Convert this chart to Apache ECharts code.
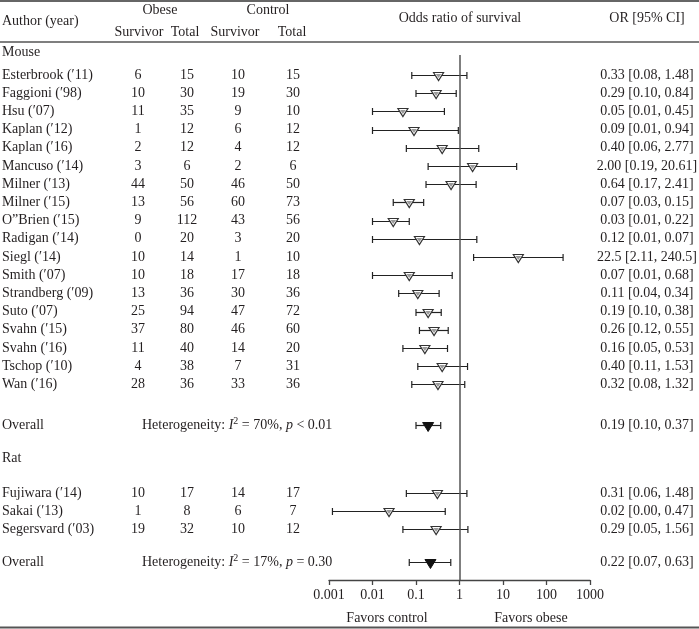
<!DOCTYPE html>
<html>
<head>
<meta charset="utf-8">
<script src="https://cdn.jsdelivr.net/npm/echarts@6/dist/echarts.min.js"></script>
<style>html,body{margin:0;padding:0;background:#fff}#c{width:699px;height:629px}</style>
</head>
<body>
<div id="c"></div>
<script>
// ---------- DATA ----------
const mouseStudies = ["Esterbrook (′11)", "Faggioni (′98)", "Hsu (′07)", "Kaplan (′12)", "Kaplan (′16)", "Mancuso (′14)", "Milner (′13)", "Milner (′15)", "O”Brien (′15)", "Radigan (′14)", "Siegl (′14)", "Smith (′07)", "Strandberg (′09)", "Suto (′07)", "Svahn (′15)", "Svahn (′16)", "Tschop (′10)", "Wan (′16)"];
const mouseObeseSurv  = [6, 10, 11, 1, 2, 3, 44, 13, 9, 0, 10, 10, 13, 25, 37, 11, 4, 28];
const mouseObeseTotal = [15, 30, 35, 12, 12, 6, 50, 56, 112, 20, 14, 18, 36, 94, 80, 40, 38, 36];
const mouseCtrlSurv   = [10, 19, 9, 6, 4, 2, 46, 60, 43, 3, 1, 17, 30, 47, 46, 14, 7, 33];
const mouseCtrlTotal  = [15, 30, 10, 12, 12, 6, 50, 73, 56, 20, 10, 18, 36, 72, 60, 20, 31, 36];
// plotted odds ratios and CI limits (as drawn)
const mouseOR = [0.33, 0.29, 0.05, 0.09, 0.40, 2.00, 0.64, 0.07, 0.03, 0.12, 22.5, 0.07, 0.11, 0.19, 0.26, 0.16, 0.40, 0.32];
const mouseLo = [0.08, 0.10, 0.01, 0.01, 0.06, 0.19, 0.17, 0.03, 0.01, 0.01, 2.11, 0.01, 0.04, 0.10, 0.12, 0.05, 0.11, 0.08];
const mouseHi = [1.48, 0.84, 0.45, 0.94, 2.77, 20.61, 2.41, 0.15, 0.07, 2.5, 240.5, 0.68, 0.34, 0.38, 0.55, 0.53, 1.53, 1.32];
const mouseLabels = ["0.33 [0.08, 1.48]", "0.29 [0.10, 0.84]", "0.05 [0.01, 0.45]", "0.09 [0.01, 0.94]", "0.40 [0.06, 2.77]", "2.00 [0.19, 20.61]", "0.64 [0.17, 2.41]", "0.07 [0.03, 0.15]", "0.03 [0.01, 0.22]", "0.12 [0.01, 0.07]", "22.5 [2.11, 240.5]", "0.07 [0.01, 0.68]", "0.11 [0.04, 0.34]", "0.19 [0.10, 0.38]", "0.26 [0.12, 0.55]", "0.16 [0.05, 0.53]", "0.40 [0.11, 1.53]", "0.32 [0.08, 1.32]"];
const mouseOverall = [0.19, 0.10, 0.37];
const mouseOverallLabel = "0.19 [0.10, 0.37]";
const mouseHet = ["70%", "< 0.01"];

const ratStudies = ["Fujiwara (′14)", "Sakai (′13)", "Segersvard (′03)"];
const ratObeseSurv  = [10, 1, 19];
const ratObeseTotal = [17, 8, 32];
const ratCtrlSurv   = [14, 6, 10];
const ratCtrlTotal  = [17, 7, 12];
const ratOR = [0.31, 0.024, 0.29];
const ratLo = [0.06, 0.0012, 0.05];
const ratHi = [1.48, 0.47, 1.56];
const ratLabels = ["0.31 [0.06, 1.48]", "0.02 [0.00, 0.47]", "0.29 [0.05, 1.56]"];
const ratOverall = [0.215, 0.07, 0.63];
const ratOverallLabel = "0.22 [0.07, 0.63]";
const ratHet = ["17%", "= 0.30"];

const tickLabels = ["0.001", "0.01", "0.1", "1", "10", "100", "1000"];

// ---------- LAYOUT ----------
const FONT = '"Liberation Serif", "DejaVu Serif", serif';
const FS = 14;
const TXT = '#231f20';
const ROW0 = 75, ROW_H = 18.2, AXIS_Y = 580, H = 629, W = 699;
const PLOT_L = 329, PLOT_R = 590, PLOT_TOP = 55;
const TEXT_TOP = 30;
const yMinFor = top => -(ROW0 - top) / ROW_H;
const yMax = (AXIS_Y - ROW0) / ROW_H;
const COL = {author: 2, os: 138, ot: 187, cs: 238, ct: 293, het: 142, or: 647};

const mouseLabelRow = -1.26;
const mouseOverallRow = 19.25;
const ratLabelRow = 21.05;
const ratRow0 = 22.97, ratStep = 0.99;
const ratOverallRow = 26.76;

// forest items: [or, lo, hi, row, isOverall]
const forest = [];
mouseOR.forEach((v, i) => forest.push([v, mouseLo[i], mouseHi[i], i, 0]));
forest.push([mouseOverall[0], mouseOverall[1], mouseOverall[2], mouseOverallRow, 1]);
ratOR.forEach((v, i) => forest.push([v, ratLo[i], ratHi[i], ratRow0 + ratStep * i, 0]));
forest.push([ratOverall[0], ratOverall[1], ratOverall[2], ratOverallRow, 1]);

// text items: [x, row, text, align, kind]
const texts = [];
texts.push([COL.author, mouseLabelRow, 'Mouse', 'left', 0]);
mouseStudies.forEach((s, i) => {
  texts.push([COL.author, i, s, 'left', 0]);
  texts.push([COL.os, i, String(mouseObeseSurv[i]), 'center', 0]);
  texts.push([COL.ot, i, String(mouseObeseTotal[i]), 'center', 0]);
  texts.push([COL.cs, i, String(mouseCtrlSurv[i]), 'center', 0]);
  texts.push([COL.ct, i, String(mouseCtrlTotal[i]), 'center', 0]);
  texts.push([COL.or, i, mouseLabels[i], 'center', 0]);
});
texts.push([COL.author, mouseOverallRow, 'Overall', 'left', 0]);
texts.push([COL.het, mouseOverallRow, 'Heterogeneity: {i|I}{sup|2} = ' + mouseHet[0] + ', {i|p} ' + mouseHet[1], 'left', 1]);
texts.push([COL.or, mouseOverallRow, mouseOverallLabel, 'center', 0]);
texts.push([COL.author, ratLabelRow, 'Rat', 'left', 0]);
ratStudies.forEach((s, i) => {
  const r = ratRow0 + ratStep * i;
  texts.push([COL.author, r, s, 'left', 0]);
  texts.push([COL.os, r, String(ratObeseSurv[i]), 'center', 0]);
  texts.push([COL.ot, r, String(ratObeseTotal[i]), 'center', 0]);
  texts.push([COL.cs, r, String(ratCtrlSurv[i]), 'center', 0]);
  texts.push([COL.ct, r, String(ratCtrlTotal[i]), 'center', 0]);
  texts.push([COL.or, r, ratLabels[i], 'center', 0]);
});
texts.push([COL.author, ratOverallRow, 'Overall', 'left', 0]);
texts.push([COL.het, ratOverallRow, 'Heterogeneity: {i|I}{sup|2} = ' + ratHet[0] + ', {i|p} ' + ratHet[1], 'left', 1]);
texts.push([COL.or, ratOverallRow, ratOverallLabel, 'center', 0]);

const chart = echarts.init(document.getElementById('c'), null, {renderer: 'canvas'});

const rich = {
  i: {fontFamily: FONT, fontSize: FS, fontStyle: 'italic', fill: TXT, color: TXT},
  sup: {fontFamily: FONT, fontSize: 10, fill: TXT, color: TXT, verticalAlign: 'top', padding: [0, 0, 7, 0]}
};

function hText(x, y, t, align) {
  return {type: 'text', silent: true, style: {x: x, y: y, text: t, font: FS + 'px ' + FONT, fill: TXT, align: align || 'center', verticalAlign: 'middle'}};
}

const option = {
  animation: false,
  backgroundColor: '#fff',
  grid: [
    {left: PLOT_L, right: W - PLOT_R, top: PLOT_TOP, bottom: H - AXIS_Y},
    {left: 0, right: 0, top: TEXT_TOP, bottom: H - AXIS_Y}
  ],
  xAxis: [
    {
      type: 'log', logBase: 10, min: 0.001, max: 1000, gridIndex: 0, splitNumber: 6,
      axisLine: {show: true, onZero: false, lineStyle: {color: '#444', width: 1.3}},
      axisTick: {show: true, inside: false, length: 5, lineStyle: {color: '#444', width: 1.3}},
      splitLine: {show: false},
      minorTick: {show: false},
      axisLabel: {
        margin: 8, color: TXT, fontFamily: FONT, fontSize: FS,
        formatter: v => {
          const k = Math.round(Math.log10(v)) + 3;
          return tickLabels[k] !== undefined ? tickLabels[k] : '';
        }
      }
    },
    {type: 'value', min: 0, max: W, gridIndex: 1, show: false}
  ],
  yAxis: [
    {type: 'value', inverse: true, min: yMinFor(PLOT_TOP), max: yMax, gridIndex: 0, show: false},
    {type: 'value', inverse: true, min: yMinFor(TEXT_TOP), max: yMax, gridIndex: 1, show: false}
  ],
  graphic: [
    {type: 'line', silent: true, shape: {x1: 0, y1: 1, x2: W, y2: 1}, style: {stroke: '#333', lineWidth: 1.5}},
    {type: 'line', silent: true, shape: {x1: 0, y1: 42, x2: W, y2: 42}, style: {stroke: '#555', lineWidth: 1.3}},
    {type: 'line', silent: true, shape: {x1: 0, y1: 627.5, x2: W, y2: 627.5}, style: {stroke: '#555', lineWidth: 2}},
    hText(2, 21, 'Author (year)', 'left'),
    hText(160, 10, 'Obese'),
    hText(268, 10, 'Control'),
    hText(139, 32, 'Survivor'),
    hText(185, 32, 'Total'),
    hText(235, 32, 'Survivor'),
    hText(292, 32, 'Total'),
    hText(460, 18, 'Odds ratio of survival'),
    hText(647, 18, 'OR [95% CI]'),
    hText(387, 618, 'Favors control'),
    hText(531, 618, 'Favors obese')
  ],
  series: [
    {
      type: 'custom',
      xAxisIndex: 0, yAxisIndex: 0,
      coordinateSystem: 'cartesian2d',
      silent: true,
      clip: false,
      encode: {x: [0, 1, 2], y: 3},
      data: forest,
      renderItem: function (params, api) {
        const row = api.value(3);
        const c = api.coord([api.value(0), row]);
        const l = api.coord([api.value(1), row]);
        const h = api.coord([api.value(2), row]);
        const y = Math.round(c[1]) + 0.5;
        const overall = api.value(4) === 1;
        const ls = {stroke: '#222', lineWidth: 1.2};
        const children = [
          {type: 'line', shape: {x1: l[0], y1: y, x2: h[0], y2: y}, style: ls},
          {type: 'line', shape: {x1: l[0], y1: y - 3.5, x2: l[0], y2: y + 3.5}, style: ls},
          {type: 'line', shape: {x1: h[0], y1: y - 3.5, x2: h[0], y2: y + 3.5}, style: ls}
        ];
        const x = c[0];
        if (overall) {
          children.push({type: 'polygon', shape: {points: [[x - 5.5, y - 3], [x + 5.5, y - 3], [x, y + 6]]}, style: {fill: '#111', stroke: '#111', lineWidth: 1}});
        } else {
          children.push({type: 'polygon', shape: {points: [[x - 5, y - 3], [x + 5, y - 3], [x, y + 5]]}, style: {fill: '#fff', stroke: '#333', lineWidth: 1.2}});
          children.push({type: 'polygon', shape: {points: [[x - 2.8, y - 1.6], [x + 2.8, y - 1.6], [x, y + 2.6]]}, style: {fill: '#9a9a9a'}});
        }
        return {type: 'group', children: children};
      },
      markLine: {
        silent: true, symbol: 'none', animation: false,
        label: {show: false},
        lineStyle: {color: '#555', width: 1.5, type: 'solid'},
        data: [{xAxis: 1}]
      },
      z: 3
    },
    {
      type: 'custom',
      xAxisIndex: 1, yAxisIndex: 1,
      coordinateSystem: 'cartesian2d',
      silent: true,
      clip: false,
      encode: {x: 0, y: 1},
      data: texts.map(t => [t[0], t[1]]),
      renderItem: function (params, api) {
        const d = texts[params.dataIndex];
        const p = api.coord([api.value(0), api.value(1)]);
        const st = {x: p[0], y: p[1], text: d[2], font: FS + 'px ' + FONT, fill: TXT, align: d[3], verticalAlign: 'middle'};
        if (d[4] === 1) st.rich = rich;
        return {type: 'text', style: st};
      }
    }
  ]
};
chart.setOption(option);
</script>
</body>
</html>
